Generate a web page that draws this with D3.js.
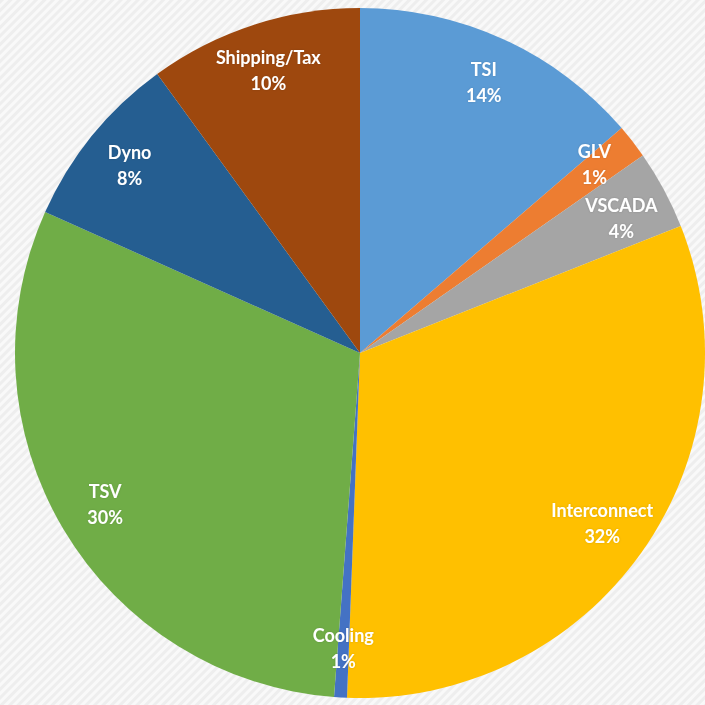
<!DOCTYPE html>
<html>
<head>
<meta charset="utf-8">
<script src="https://cdn.jsdelivr.net/npm/d3@7"></script>
<style>
  html, body { margin: 0; padding: 0; background: #f7f7f7; }
  #chart { width: 705px; height: 705px; }
  .slice-label { font-family: Lato, "Open Sans", sans-serif; font-weight: 700; font-size: 18px; fill: #fff; }
</style>
</head>
<body>
<div id="chart"></div>
<script>
// slices, clockwise from 12 o'clock
const categories = ['TSI', 'GLV', 'VSCADA', 'Interconnect', 'Cooling', 'TSV', 'Dyno', 'Shipping/Tax'];
const shares = [13.7, 1.6, 3.7, 31.6, 0.6, 30.5, 8.3, 10.0];
const pctLabels = ['14%', '1%', '4%', '32%', '1%', '30%', '8%', '10%'];
const colors = ['#5b9bd5', '#ed7d31', '#a5a5a5', '#ffc000', '#4472c4', '#70ad47', '#255e91', '#9e480e'];

const width = 705, height = 705;
const cx = 360, cy = 353, radius = 345;
const lineGap = 26;

const svg = d3.select('#chart')
  .append('svg')
  .attr('width', width)
  .attr('height', height);

// striped background
const defs = svg.append('defs');
const pat = defs.append('pattern')
  .attr('id', 'stripes')
  .attr('width', 6)
  .attr('height', 6)
  .attr('patternUnits', 'userSpaceOnUse')
  .attr('patternTransform', 'rotate(45)');
pat.append('rect').attr('width', 6).attr('height', 6).attr('fill', '#f9f9f9');
pat.append('rect').attr('width', 3).attr('height', 6).attr('fill', '#eeeeee');

const glow = defs.append('filter').attr('id', 'glow').attr('x', '-20%').attr('y', '-20%').attr('width', '140%').attr('height', '140%');
glow.append('feGaussianBlur').attr('in', 'SourceAlpha').attr('stdDeviation', 1.2).attr('result', 'b');
glow.append('feFlood').attr('flood-color', '#000').attr('flood-opacity', 0.15);
glow.append('feComposite').attr('in2', 'b').attr('operator', 'in');
const m = glow.append('feMerge');
m.append('feMergeNode');
m.append('feMergeNode').attr('in', 'SourceGraphic');

svg.append('rect')
  .attr('width', width)
  .attr('height', height)
  .attr('fill', 'url(#stripes)');

const data = categories.map((c, i) => ({ name: c, value: shares[i], pct: pctLabels[i], color: colors[i] }));

const pie = d3.pie()
  .value(d => d.value)
  .sort(null);

const arc = d3.arc()
  .innerRadius(0)
  .outerRadius(radius);

const labelArc = d3.arc()
  .innerRadius(radius * 0.86)
  .outerRadius(radius * 0.86);

const g = svg.append('g')
  .attr('transform', `translate(${cx},${cy})`);

const arcsData = pie(data);

g.selectAll('.slice')
  .data(arcsData)
  .enter()
  .append('path')
  .attr('class', 'slice')
  .attr('d', arc)
  .attr('fill', d => d.data.color);

// label positions, pushed apart where two labels would collide
const pos = arcsData.map(d => labelArc.centroid(d));
for (let iter = 0; iter < 20; iter++) {
  for (let i = 0; i < pos.length; i++) {
    const j = (i + 1) % pos.length;
    const dy = pos[j][1] - pos[i][1];
    const dx = pos[j][0] - pos[i][0];
    const need = lineGap * 2 + 2;
    if (Math.abs(dx) < 90 && Math.abs(dy) < need) {
      const s = dy >= 0 ? 1 : -1;
      const push = (need - Math.abs(dy)) / 2;
      pos[i][1] -= s * push;
      pos[j][1] += s * push;
    }
  }
}

const labels = g.selectAll('.slice-label')
  .data(arcsData)
  .enter()
  .append('text')
  .attr('class', 'slice-label')
  .attr('text-anchor', 'middle')
  .attr('filter', 'url(#glow)')
  .attr('transform', (d, i) => `translate(${pos[i]})`);

labels.append('tspan')
  .attr('x', 0)
  .attr('y', -lineGap / 2 + 6)
  .text(d => d.data.name);

labels.append('tspan')
  .attr('x', 0)
  .attr('y', lineGap / 2 + 6)
  .text(d => d.data.pct);
</script>
</body>
</html>
